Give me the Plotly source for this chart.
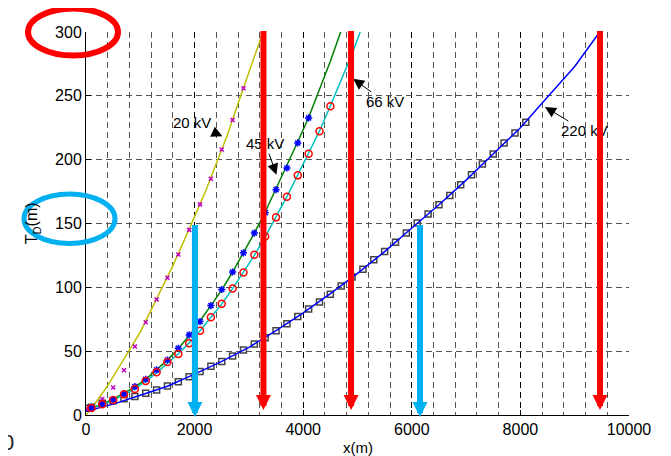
import plotly.graph_objects as go

FONT = "Liberation Sans"

# ---------------- data ----------------
# 20 kV (yellow line + magenta x markers)
x20_line = [0, 200, 400, 600, 800, 1000, 1200, 1400, 1600, 1800, 2000, 2200, 2400, 2600, 2800, 3000, 3260]
y20_line = [0, 11, 23, 36.5, 51, 65, 82, 100, 117, 136, 155, 175, 197, 219, 244, 269, 300]
x20_pts = [0, 100, 300, 500, 700, 900, 1100, 1300, 1500, 1700, 1900, 2100, 2300, 2500, 2700, 2900]
y20_pts = [5, 6.5, 12.5, 21.5, 35, 53.6, 72.6, 90.5, 107.5, 125.7, 145, 165, 185, 208, 231, 256]

# 45 kV (green line + blue asterisks)
x45_line = [0, 300, 500, 700, 900, 1100, 1300, 1500, 1700, 1900, 2100, 2300, 2500, 2700, 2900, 3100, 3300,
            3500, 3700, 3900, 4100, 4300, 4500, 4690]
y45_line = [4, 8.5, 12.5, 17, 22, 28, 35.5, 43, 52, 62, 73.5, 85.5, 98, 112, 127, 142.5, 159,
            177, 195, 214, 233, 255, 277, 300]
x45_pts = [100, 300, 500, 700, 900, 1100, 1300, 1500, 1700, 1900, 2100, 2300, 2500, 2700, 2900, 3100, 3300,
           3500, 3700, 3900, 4100]
y45_pts = [6, 9, 12, 16.5, 22.2, 28, 35.3, 43.1, 52.3, 62.7, 73.2, 85.7, 98.3, 112, 127, 142.5, 158.5,
           176.5, 193.5, 213.1, 232.7]

# 66 kV (cyan line + red circles)
x66_line = [0, 300, 500, 700, 900, 1100, 1300, 1500, 1700, 1900, 2100, 2300, 2500, 2700, 2900, 3100, 3300,
            3500, 3700, 3900, 4100, 4300, 4500, 4700, 4900, 5050]
y66_line = [4, 8, 11.5, 16, 20.5, 26.5, 33, 40.5, 48, 56.5, 66, 76.5, 87, 99, 111.5, 125, 139.5,
            155, 171, 188, 205, 222.5, 242, 262, 283, 300]
x66_pts = [100, 300, 500, 700, 900, 1100, 1300, 1500, 1700, 1900, 2100, 2300, 2500, 2700, 2900, 3100, 3300,
           3500, 3700, 3900, 4100, 4300, 4500]
y66_pts = [5.5, 8.5, 11.8, 16.2, 20.4, 26.7, 33.5, 41.6, 47.8, 56.2, 66, 76.5, 87.1, 99, 111.7, 125.5, 139.8,
           154.8, 171, 187.7, 204.7, 222.2, 241.8]

# 220 kV (blue line + grey squares)
x220_line = [0, 500, 1000, 1500, 2000, 2500, 3000, 3500, 4000, 4500, 5000, 5500, 6000, 6500, 7000,
             7500, 8000, 8500, 9000, 9460]
y220_line = [3, 8.5, 15.5, 22.5, 32, 42, 53, 66, 80, 95, 111, 128, 146.5, 164.7, 184,
             204.5, 225, 249, 273, 300]
x220_pts = [0, 100, 300, 500, 700, 900, 1100, 1300, 1500, 1700, 1900, 2100, 2300, 2500, 2700, 2900,
            3100, 3300, 3500, 3700, 3900, 4100, 4300, 4500, 4700, 4900, 5100, 5300, 5500, 5700,
            5900, 6100, 6300, 6500, 6700, 6900, 7100, 7300, 7500, 7700, 7900, 8100]
y220_pts = [5.2, 6, 9.2, 11.2, 12.8, 14.4, 17, 19.6, 22.7, 26.1, 30, 34, 38.2, 42, 46.3, 51,
            55.7, 60.6, 65.9, 71.4, 77.1, 83.1, 88.6, 94.6, 101, 108, 114.2, 121.6, 128.1, 135.4,
            142.5, 150.3, 157.4, 164.7, 172, 180.4, 188.2, 196.6, 204.5, 213, 220.9, 229.3]

# curve labels: text, tip (x, y), text offset in px
label_text = ["20 kV", "45 kV", "66 kV", "220 kV"]
label_tip_x = [2513, 3508, 4920, 8452]
label_tip_y = [218.3, 188.2, 263.3, 241.3]
label_ax = [-30, -11, 32, 40]
label_ay = [-14, -31, 23, 24]

# highlight arrows
red_arrow_x = [3268, 4881, 9466]
red_arrow_top = 302
red_arrow_tip = 4
blue_arrow_x = [2006, 6151]
blue_arrow_top = 150
blue_arrow_tip = -1.5

x_ticks = [0, 2000, 4000, 6000, 8000, 10000]
y_ticks = [0, 50, 100, 150, 200, 250, 300]

# ---------------- figure ----------------
fig = go.Figure()

fig.add_trace(go.Scatter(x=x20_line, y=y20_line, mode="lines", line=dict(color="#BFBF00", width=1.5)))
fig.add_trace(go.Scatter(x=x45_line, y=y45_line, mode="lines", line=dict(color="#008000", width=1.5)))
fig.add_trace(go.Scatter(x=x66_line, y=y66_line, mode="lines", line=dict(color="#00BFBF", width=1.5)))

fig.add_trace(go.Scatter(x=x220_pts, y=y220_pts, mode="markers",
                         marker=dict(symbol="square-open", size=6, color="#444444", line=dict(width=1.5))))
fig.add_trace(go.Scatter(x=x220_line, y=y220_line, mode="lines", line=dict(color="#0000FF", width=1.5)))

fig.add_trace(go.Scatter(x=x20_pts, y=y20_pts, mode="markers",
                         marker=dict(symbol="x-thin-open", size=4, color="#BF00BF", line=dict(width=1.5, color="#BF00BF"))))
fig.add_trace(go.Scatter(x=x45_pts, y=y45_pts, mode="markers",
                         marker=dict(symbol="asterisk-open", size=6, color="#0000FF", line=dict(width=1.5, color="#0000FF"))))
fig.add_trace(go.Scatter(x=x66_pts, y=y66_pts, mode="markers",
                         marker=dict(symbol="circle-open", size=7, color="#FF0000", line=dict(width=1.5, color="#FF0000"))))

annotations = []
for t, tx, ty, ax, ay in zip(label_text, label_tip_x, label_tip_y, label_ax, label_ay):
    annotations.append(dict(x=tx, y=ty, xref="x", yref="y", text=t, showarrow=True, ax=ax, ay=ay,
                            arrowhead=2, arrowsize=2.2, arrowwidth=1, arrowcolor="black",
                            font=dict(family=FONT, size=15, color="black")))

for xv in red_arrow_x:
    annotations.append(dict(x=xv, y=red_arrow_tip, ax=xv, ay=red_arrow_top, xref="x", yref="y",
                            axref="x", ayref="y", text="", showarrow=True, arrowhead=2,
                            arrowsize=0.5, arrowwidth=6, arrowcolor="#FF0000"))
for xv in blue_arrow_x:
    annotations.append(dict(x=xv, y=blue_arrow_tip, ax=xv, ay=blue_arrow_top, xref="x", yref="y",
                            axref="x", ayref="y", text="", showarrow=True, arrowhead=2,
                            arrowsize=0.5, arrowwidth=6, arrowcolor="#00B0F0"))

# axis titles
annotations.append(dict(x=0.5, y=-0.084, xref="paper", yref="paper", text="x(m)", showarrow=False,
                        xanchor="center", yanchor="middle", font=dict(family=FONT, size=15, color="black")))
annotations.append(dict(x=-0.098, y=0.5, xref="paper", yref="paper", text="T<sub>D</sub>(m)", showarrow=False,
                        textangle=-90, xanchor="center", yanchor="middle",
                        font=dict(family=FONT, size=16, color="black")))
# cropped fragment at bottom-left (right half of a glyph at the figure's left edge)
annotations.append(dict(x=-0.1436, y=-0.073, xref="paper", yref="paper", text="0", showarrow=False,
                        xanchor="center", yanchor="middle", font=dict(family=FONT, size=22, color="#222222")))

shapes = [
    dict(type="circle", xref="paper", yref="paper", xsizemode="pixel", ysizemode="pixel",
         xanchor=0, yanchor=1, x0=-58, x1=32, y0=-23.5, y1=23.5,
         line=dict(color="#FF0000", width=6), layer="above"),
    dict(type="circle", xref="paper", yref="paper", xsizemode="pixel", ysizemode="pixel",
         xanchor=0, yanchor=0.5, x0=-62, x1=29, y0=-20, y1=29.5,
         line=dict(color="#00B0F0", width=5), layer="above"),
]

# the page body adds an 8px offset, so margins compensate for it
fig.update_layout(
    template="none",
    width=671, height=456,
    margin=dict(l=78, r=50, t=24, b=49, pad=0),
    paper_bgcolor="white", plot_bgcolor="white",
    showlegend=False,
    annotations=annotations,
    shapes=shapes,
    xaxis=dict(range=[0, 10000], tickvals=x_ticks, ticktext=[str(v) for v in x_ticks], automargin=False,
               showline=True, linecolor="black", linewidth=1, ticks="inside", ticklen=5,
               tickcolor="black", showgrid=True, gridcolor="black", griddash="6px,4px", gridwidth=1.3,
               minor=dict(dtick=400, tick0=0, showgrid=True, gridcolor="#555555", griddash="6px,4px",
                          gridwidth=1),
               zeroline=False, tickfont=dict(family=FONT, size=16, color="black")),
    yaxis=dict(range=[0, 300], tickvals=y_ticks, ticktext=[str(v) for v in y_ticks], automargin=False,
               showline=True, linecolor="black", linewidth=1, ticks="inside", ticklen=5,
               tickcolor="black", showgrid=True, gridcolor="#555555", griddash="6px,4px", gridwidth=1,
               zeroline=False, tickfont=dict(family=FONT, size=16, color="black")),
)

fig.write_html("out.html")
